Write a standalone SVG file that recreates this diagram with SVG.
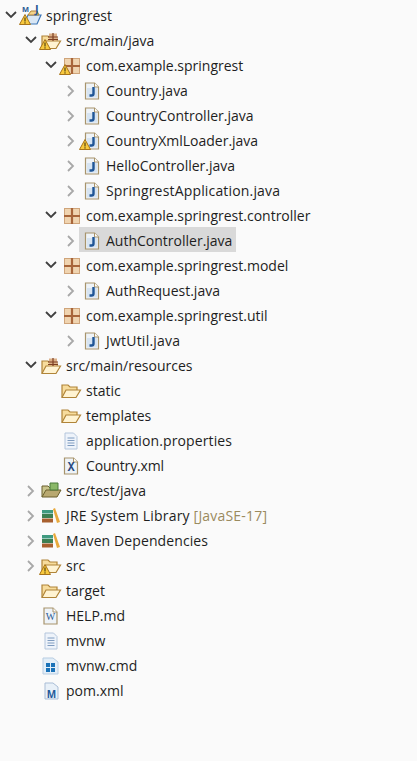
<svg xmlns="http://www.w3.org/2000/svg" width="417" height="761" viewBox="0 0 417 761">
<style>
text{font-family:"Open Sans","Noto Sans","Liberation Sans",sans-serif;font-size:14px;fill:#1e1e1e}
.d{fill:none;stroke:#404040;stroke-width:1.800}
.r{fill:none;stroke:#a8a8a8;stroke-width:1.800}
</style>
<defs>
<symbol id="file" overflow="visible"><path d="M-6.500-8H2.500L6.500-4V8H-6.500Z" fill="#eef3f8" stroke="#a8946c" stroke-width="1.200"/><path d="M2.500-8V-4H6.500" fill="#fff" stroke="#a8946c"/></symbol>
<symbol id="java" overflow="visible"><use href="#file"/><rect x="-5" y="-3" width="10" height="9.500" fill="#d6e4f2"/><path d="M1.500-4V2.500Q1.500 4.500-.5 4.500H-2.500" fill="none" stroke="#1f5596" stroke-width="2.400"/></symbol>
<symbol id="text" overflow="visible"><path d="M-6-8H2.500L6-4.500V8H-6Z" fill="#eef3fa" stroke="#b4c6dc"/><path d="M-3.500-3H3.500M-3.500-.5H3.500M-3.500 2H3.500M-3.500 4.500H3.500" stroke="#7f9cc0"/></symbol>
<symbol id="folder" overflow="visible"><path d="M-9 6V-6H-3L-1-4H6V-1" fill="#f7dc9c" stroke="#b08438" stroke-width="1.200"/><path d="M-9 6.500-5-1H9.500L5 6.500Z" fill="#fff3d2" stroke="#b08438" stroke-width="1.200"/></symbol>
<symbol id="srcfolder" overflow="visible"><use href="#folder"/><path d="M-2-8.500H6V-1.500H-2Z" fill="#dcb088"/><path d="M2-9V-1M-3-5H7M-3-2.500H7" fill="none" stroke="#7d3f22" stroke-width="1.200"/></symbol>
<symbol id="pkg" overflow="visible"><rect x="-7.500" y="-7.500" width="15" height="15" fill="#f0d4b0" stroke="#cfa47a"/><path d="M-8 0H8M0-8V8" stroke="#a8653a" stroke-width="2.200"/></symbol>
<symbol id="warn" overflow="visible"><path d="M0-5.500 5.500 4.500H-5.500Z" fill="#f8c93e" stroke="#a8741a"/><path d="M0-2.500V1.500M0 2.300V3.600" stroke="#33280a"/></symbol>
<symbol id="lib" overflow="visible"><path d="M-8-6H3V-2.500H-8Z" fill="#3f9a80"/><path d="M-8-2H3V2H-8Z" fill="#3d7f52"/><path d="M-8 2.500H3V6.500H-8Z" fill="#a8602f"/><path d="M3-7 5-8 10 6 7 7Z" fill="#e8a93c"/></symbol>
</defs>
<rect width="417" height="761" fill="#fafafa"/>
<rect x="79" y="227" width="157" height="25" fill="#d9d9d9"/>

<g id="connectors">
<path class="d" d="M6 12l5 5 5-5M26 37l5 5 5-5M46 62l5 5 5-5M46 212l5 5 5-5M46 262l5 5 5-5M46 312l5 5 5-5M26 362l5 5 5-5"/>
<path class="r" d="M68 86l5 5-5 5M68 111l5 5-5 5M68 136l5 5-5 5M68 161l5 5-5 5M68 186l5 5-5 5M68 236l5 5-5 5M68 286l5 5-5 5M68 336l5 5-5 5M28 486l5 5-5 5M28 511l5 5-5 5M28 536l5 5-5 5M28 561l5 5-5 5"/>
</g>

<g id="springrest"><path d="M24 24 28 15H41L37 24Z" fill="#d8e6f4" stroke="#3f78b8" stroke-width="1.200"/><path d="M28 15 31 11H37L39 15Z" fill="#f3d488" stroke="#b08438"/><text x="22" y="12" style="font-size:7.500px;font-weight:bold;fill:#2a5a94">M</text><text x="35" y="13" style="font-size:11px;font-weight:bold;fill:#2a5a94">J</text><use href="#warn" x="25" y="20"/><text x="46" y="21">springrest</text></g>
<g id="src-main-java"><use href="#srcfolder" x="51" y="42"/><use href="#warn" x="45" y="45"/><text x="66" y="46">src/main/java</text></g>
<g id="pkg-root"><use href="#pkg" x="72" y="66"/><use href="#warn" x="65" y="70"/><text x="86" y="71">com.example.springrest</text></g>
<g id="country"><use href="#java" x="92" y="91"/><text x="106" y="96">Country.java</text></g>
<g id="country-controller"><use href="#java" x="92" y="116"/><text x="106" y="121">CountryController.java</text></g>
<g id="country-xml-loader"><use href="#java" x="92" y="141"/><use href="#warn" x="85" y="145"/><text x="106" y="146">CountryXmlLoader.java</text></g>
<g id="hello-controller"><use href="#java" x="92" y="166"/><text x="106" y="171">HelloController.java</text></g>
<g id="springrest-application"><use href="#java" x="92" y="191"/><text x="106" y="196" textLength="174">SpringrestApplication.java</text></g>
<g id="pkg-controller"><use href="#pkg" x="72" y="216"/><text x="86" y="221">com.example.springrest.controller</text></g>
<g id="auth-controller"><use href="#java" x="92" y="241"/><text x="106" y="246">AuthController.java</text></g>
<g id="pkg-model"><use href="#pkg" x="72" y="266"/><text x="86" y="271">com.example.springrest.model</text></g>
<g id="auth-request"><use href="#java" x="92" y="291"/><text x="106" y="296">AuthRequest.java</text></g>
<g id="pkg-util"><use href="#pkg" x="72" y="316"/><text x="86" y="321">com.example.springrest.util</text></g>
<g id="jwt-util"><use href="#java" x="92" y="341"/><text x="106" y="346" textLength="74">JwtUtil.java</text></g>
<g id="src-main-resources"><use href="#srcfolder" x="51" y="367"/><text x="66" y="371">src/main/resources</text></g>
<g id="static"><use href="#folder" x="71" y="391"/><text x="86" y="396">static</text></g>
<g id="templates"><use href="#folder" x="71" y="416"/><text x="86" y="421">templates</text></g>
<g id="application-properties"><use href="#text" x="71" y="441"/><text x="86" y="446" textLength="146">application.properties</text></g>
<g id="country-xml"><use href="#file" x="71" y="466"/><text x="71" y="470.500" text-anchor="middle" style="font-family:'Liberation Mono',monospace;font-size:12px;font-weight:bold;fill:#2a4a80">X</text><text x="86" y="471" textLength="78">Country.xml</text></g>
<g id="src-test-java"><path d="M42 497V486H48L50 488H57V491" fill="#c9c48c" stroke="#6a5f2c"/><path d="M42 497 46 490H61L57 497Z" fill="#b8a870" stroke="#6a5f2c"/><path d="M50 483H58V490H50Z" fill="#8ab868" stroke="#4a7a3a"/><text x="66" y="496">src/test/java</text></g>
<g id="jre"><use href="#lib" x="50" y="516"/><text x="66" y="521" textLength="201">JRE System Library <tspan fill="#9a8a5e">[JavaSE-17]</tspan></text></g>
<g id="maven-deps"><use href="#lib" x="50" y="541"/><text x="66" y="546" textLength="142">Maven Dependencies</text></g>
<g id="src"><use href="#folder" x="51" y="566"/><use href="#warn" x="45" y="570"/><text x="66" y="571">src</text></g>
<g id="target"><use href="#folder" x="51" y="591"/><text x="66" y="596">target</text></g>
<g id="help"><use href="#file" x="50.500" y="616"/><text x="50.500" y="620" text-anchor="middle" style="font-family:'Liberation Serif',serif;font-size:10px;fill:#2a5a94">W</text><text x="66" y="621">HELP.md</text></g>
<g id="mvnw"><use href="#text" x="51" y="641"/><text x="66" y="646">mvnw</text></g>
<g id="mvnw-cmd"><path d="M43 658H53L58 662V674H43Z" fill="#e3eef8" stroke="#b8cde2"/><path d="M46 663H50V667H46ZM51 663H55V667H51ZM46 668H50V672H46ZM51 668H55V672H51Z" fill="#1a72b8"/><text x="66" y="671">mvnw.cmd</text></g>
<g id="pom"><path d="M45 683H53L58 687V699H45Z" fill="#e8f0f8" stroke="#a9bdd6"/><text x="51.500" y="697.500" text-anchor="middle" style="font-size:10px;font-weight:bold;fill:#1f5a9a">M</text><text x="66" y="696">pom.xml</text></g>
</svg>
